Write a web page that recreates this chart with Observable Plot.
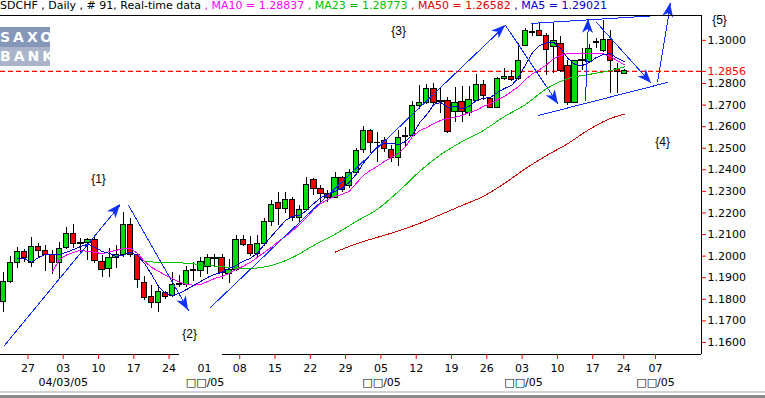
<!DOCTYPE html>
<html><head><meta charset="utf-8">
<script src="https://cdn.jsdelivr.net/npm/d3@7"></script>
<script src="https://cdn.jsdelivr.net/npm/@observablehq/plot@0.6"></script>
<style>
body{margin:0;background:#fff;}
#wrap{position:relative;width:765px;height:398px;overflow:hidden;font-family:"DejaVu Sans",sans-serif;background:#fff;}
#chart{position:absolute;left:0;top:0;}
#title{position:absolute;left:0;top:-1px;font-size:11px;line-height:13px;white-space:pre;}
.logo{position:absolute;left:0;width:50px;color:#fff;font-weight:bold;font-size:14px;letter-spacing:3px;text-align:center;font-family:"DejaVu Sans",sans-serif;}
#g1{position:absolute;left:0;top:391px;width:765px;height:2px;background:#d0d0d0;}
#g2{position:absolute;left:0;top:395px;width:765px;height:3px;background:#8c8c8c;}
</style></head>
<body><div id="wrap"><div id="chart"></div><div id="title"></div>
<div class="logo" style="top:27px;height:20px;line-height:20px;background:#8797b8;">SAXO</div>
<div class="logo" style="top:47px;height:19px;line-height:19px;background:#a9b4ca;">BANK</div>
<div id="g1"></div><div id="g2"></div></div>
<script>
// ---- candle data (visible bars, index 0..88) ----
const open  = [1.1786,1.1879,1.1967,1.2018,1.1967,1.2041,1.2022,1.2004,1.1967,1.2036,1.2101,1.2059,1.2059,1.2073,1.1971,1.1939,1.1990,1.2004,1.2143,1.2004,1.1876,1.1809,1.1781,1.1830,1.1815,1.1867,1.1867,1.1932,1.1930,1.1950,1.1985,1.1990,1.1918,1.1934,1.2073,1.2053,1.2011,1.2055,1.2157,1.2244,1.2217,1.2258,1.2177,1.2215,1.2351,1.2312,1.2289,1.2271,1.2363,1.2325,1.2387,1.2490,1.2578,1.2525,1.2533,1.2493,1.2456,1.2552,1.2555,1.2694,1.2709,1.2775,1.2716,1.2721,1.2667,1.2713,1.2662,1.2721,1.2794,1.2729,1.2688,1.2822,1.2832,1.2822,1.2976,1.3036,1.3045,1.3022,1.2971,1.2984,1.2879,1.2709,1.2906,1.2899,1.2988,1.2950,1.3002,1.2869,1.2846];
const high  = [1.1925,1.1999,1.2041,1.2031,1.2087,1.2059,1.2050,1.2027,1.2065,1.2133,1.2147,1.2084,1.2084,1.2092,1.2004,1.2036,1.2050,1.2203,1.2175,1.2013,1.1907,1.1865,1.1865,1.1838,1.1924,1.1911,1.1953,1.1971,1.1994,1.2008,1.2008,1.2008,1.1985,1.2096,1.2096,1.2092,1.2096,1.2175,1.2258,1.2293,1.2295,1.2272,1.2235,1.2365,1.2360,1.2328,1.2305,1.2389,1.2369,1.2402,1.2500,1.2601,1.2586,1.2575,1.2550,1.2513,1.2582,1.2596,1.2717,1.2791,1.2794,1.2799,1.2777,1.2737,1.2783,1.2786,1.2786,1.2842,1.2814,1.2735,1.2828,1.2871,1.2860,1.2984,1.3055,1.3076,1.3076,1.3031,1.3078,1.3018,1.2906,1.2906,1.2962,1.2980,1.3008,1.3092,1.3045,1.2893,1.2865];
const low   = [1.1740,1.1874,1.1943,1.1971,1.1948,1.1994,1.1930,1.1916,1.1897,1.2030,1.2036,1.2018,1.1980,1.1967,1.1902,1.1902,1.1943,1.1994,1.1994,1.1851,1.1795,1.1758,1.1741,1.1800,1.1809,1.1855,1.1856,1.1883,1.1902,1.1916,1.1953,1.1893,1.1874,1.1930,1.2045,1.1999,1.1994,1.2045,1.2138,1.2143,1.2198,1.2161,1.2152,1.2212,1.2281,1.2250,1.2249,1.2268,1.2295,1.2314,1.2383,1.2476,1.2476,1.2436,1.2481,1.2434,1.2416,1.2508,1.2550,1.2680,1.2703,1.2703,1.2661,1.2569,1.2621,1.2621,1.2647,1.2717,1.2721,1.2684,1.2684,1.2814,1.2809,1.2814,1.2971,1.3018,1.3018,1.2837,1.2846,1.2851,1.2698,1.2707,1.2860,1.2893,1.2962,1.2944,1.2752,1.2754,1.2840];
const close = [1.1879,1.1967,1.2018,1.1990,1.2041,1.2022,1.2004,1.1967,1.2031,1.2101,1.2055,1.2055,1.2073,1.1976,1.1934,1.1990,1.2004,1.2143,1.2004,1.1888,1.1805,1.1781,1.1832,1.1809,1.1868,1.1871,1.1930,1.1936,1.1971,1.1990,1.1992,1.1924,1.1934,1.2073,1.2053,1.2008,1.2055,1.2157,1.2235,1.2217,1.2258,1.2177,1.2212,1.2331,1.2312,1.2289,1.2271,1.2363,1.2305,1.2387,1.2485,1.2578,1.2525,1.2522,1.2498,1.2456,1.2549,1.2557,1.2694,1.2711,1.2775,1.2711,1.2720,1.2575,1.2709,1.2667,1.2725,1.2794,1.2740,1.2688,1.2822,1.2832,1.2817,1.2906,1.3041,1.3039,1.3022,1.2956,1.2999,1.2860,1.2709,1.2903,1.2911,1.2962,1.2992,1.3002,1.2903,1.2852,1.2856];

// ---- moving averages ----
const ma5Start = 2;
const ma5 = [1.1990,1.1990,1.1971,1.1994,1.2008,1.2008,1.2008,1.2018,1.2031,1.2045,1.2055,1.2041,1.2022,1.2013,1.1999,1.2004,1.2018,1.2004,1.1967,1.1916,1.1860,1.1828,1.1818,1.1828,1.1846,1.1865,1.1883,1.1902,1.1916,1.1925,1.1943,1.1957,1.1976,1.1990,1.2013,1.2055,1.2092,1.2129,1.2166,1.2184,1.2189,1.2212,1.2244,1.2272,1.2286,1.2300,1.2314,1.2342,1.2379,1.2430,1.2471,1.2508,1.2522,1.2522,1.2517,1.2531,1.2564,1.2619,1.2656,1.2703,1.2712,1.2689,1.2694,1.2684,1.2694,1.2721,1.2731,1.2735,1.2758,1.2777,1.2791,1.2828,1.2888,1.2944,1.2976,1.2990,1.2990,1.2962,1.2916,1.2888,1.2883,1.2897,1.2920,1.2934,1.2939,1.2916,1.2902];
const ma10Start = 7;
const ma10 = [1.1930,1.1985,1.2006,1.2018,1.2027,1.2022,1.2018,1.2011,1.2020,1.2027,1.2034,1.2037,1.2013,1.1976,1.1948,1.1930,1.1911,1.1895,1.1879,1.1869,1.1865,1.1869,1.1883,1.1897,1.1906,1.1920,1.1939,1.1953,1.1971,1.1994,1.2018,1.2041,1.2068,1.2092,1.2119,1.2147,1.2180,1.2217,1.2244,1.2263,1.2277,1.2286,1.2300,1.2337,1.2374,1.2397,1.2416,1.2439,1.2457,1.2476,1.2508,1.2555,1.2582,1.2596,1.2615,1.2629,1.2638,1.2643,1.2652,1.2666,1.2675,1.2694,1.2707,1.2726,1.2740,1.2763,1.2786,1.2819,1.2846,1.2865,1.2888,1.2916,1.2930,1.2939,1.2941,1.2941,1.2941,1.2939,1.2937,1.2925,1.2906,1.2886];
const ma23Idx = [20,23,26,29,32,35,38,41,44,47,50,53,56,59,62,65,68,71,74,77,80,83,86,88];
const ma23 = [1.1974,1.1971,1.1967,1.1957,1.1948,1.1943,1.1957,1.1994,1.2050,1.2101,1.2161,1.2217,1.2300,1.2393,1.2471,1.2531,1.2582,1.2647,1.2703,1.2777,1.2823,1.2842,1.2860,1.2877];
const ma50Idx = [47,50,53,56,59,62,65,68,71,74,77,80,83,86,88];
const ma50 = [1.2018,1.2057,1.2087,1.2117,1.2152,1.2193,1.2235,1.2277,1.2337,1.2406,1.2467,1.2522,1.2587,1.2638,1.2658];

// ---- labels ----
const maNames  = ["MA10","MA23","MA50","MA5"];
const maLast   = ["1.28837","1.28773","1.26582","1.29021"];
const lastPrice = 1.2856;
const yTicks = [1.16,1.17,1.18,1.19,1.20,1.21,1.22,1.23,1.24,1.25,1.26,1.27,1.28,1.30];
const dayTickPos = [3.5,8.5,13.5,18.5,23.5,33.5,38.5,43.5,48.5,53.5,58.5,63.5,68.5,73.5,78.5,83.5,87.9,92.4];
const dayLabelPos = [3.5,8.5,13.5,18.5,23.5,28.5,33.5,38.5,43.5,48.5,53.5,58.5,63.5,68.5,73.5,78.5,83.5,87.9,92.4];
const dayLabels = ["27","03","10","17","24","01","08","15","22","29","05","12","19","26","03","10","17","24","07"];
const monthPos = [8.5,28.6,53.6,73.7,92.4];
const monthLabels = ["04/03/05","\u25A1\u25A1/05","\u25A1\u25A1/05","\u25A1\u25A1/05","\u25A1\u25A1/05"];
const waveLabels = ["{1}","{2}","{3}","{4}","{5}"];
const waveI = [13.5,26.4,56.0,93.4,101.46];
const waveP = [1.2355,1.1637,1.3041,1.2527,1.3092];

// ---- drawn trend lines / arrows (bar index, price) ----
const arrows = [
  {i1:0.18, p1:1.1586, i2:16.62, p2:1.2239, head:true},
  {i1:17.75,p1:1.2235, i2:26.25, p2:1.1748, head:true},
  {i1:29.36,p1:1.1762, i2:71.15, p2:1.3069, head:true},
  {i1:71.15,p1:1.3069, i2:78.65, p2:1.2703, head:true},
  {i1:82.48,p1:1.2721, i2:82.90, p2:1.3097, head:true},
  {i1:84.04,p1:1.3083, i2:91.83, p2:1.2800, head:true},
  {i1:92.68,p1:1.2805, i2:94.52, p2:1.3171, head:true},
  {i1:75.82,p1:1.2652, i2:94.10, p2:1.2805, head:false},
  {i1:74.69,p1:1.3078, i2:91.69, p2:1.3113, head:false}
];

const C = {up:"#00dd00", down:"#ee0000", ma5:"#0000cc", ma10:"#ff00ff", ma23:"#00c000", ma50:"#cc0000", ann:"#1030ff"};
const maColors = [C.ma10, C.ma23, "#dd0000", C.ma5];

// title
const title = document.getElementById("title");
title.append(document.createTextNode("SDCHF , Daily , # 91, Real-time data"));
maNames.forEach((n,k)=>{const s=document.createElement("span");s.style.color=maColors[k];s.textContent=" , "+n+" = "+maLast[k];title.append(s);});

const candles = open.map((o,i)=>({i, open:o, high:high[i], low:low[i], close:close[i]}));
const l5 = ma5.map((v,k)=>({i:k+ma5Start, v}));
const l10 = ma10.map((v,k)=>({i:k+ma10Start, v}));
const l23 = ma23.map((v,k)=>({i:ma23Idx[k], v}));
const l50 = ma50.map((v,k)=>({i:ma50Idx[k], v}));

const xDom = [-0.382, 98.91];
const yDom = [1.15442, 1.31151];

function heads(index, scales) {
  const sx = scales.x, sy = scales.y;
  const g = d3.create("svg:g");
  for (const a of arrows.filter(d=>d.head)) {
    const x1=sx(a.i1), y1=sy(a.p1), x2=sx(a.i2), y2=sy(a.p2);
    const dx=x2-x1, dy=y2-y1, L=Math.hypot(dx,dy), ux=dx/L, uy=dy/L, nx=-uy, ny=ux;
    const len=14, w=5.5, notch=10;
    const bx=x2-len*ux, by=y2-len*uy;
    const p=[[x2,y2],[bx+w*nx,by+w*ny],[x2-notch*ux,y2-notch*uy],[bx-w*nx,by-w*ny]];
    g.append("path").attr("d","M"+p.map(q=>q.join(",")).join("L")+"Z").attr("fill",C.ann);
  }
  return g.node();
}

const crisp = {shapeRendering:"crispEdges"};
const chart = Plot.plot({
  width:765, height:398,
  marginLeft:0, marginRight:64, marginTop:15, marginBottom:44,
  style:{fontFamily:"DejaVu Sans", fontSize:"11px", background:"transparent", overflow:"visible"},
  x:{domain:xDom, axis:null},
  y:{domain:yDom, axis:null},
  marks:[
    Plot.ruleY([lastPrice], {stroke:"#ff0000", strokeWidth:1.2, strokeDasharray:"5,3"}),
    Plot.ruleX(candles, {x:"i", y1:"low", y2:"high", stroke:"black", ...crisp}),
    Plot.rect(candles, {x1:d=>d.i-0.38, x2:d=>d.i+0.38, y1:"open", y2:"close",
      fill:d=>d.close>=d.open?C.up:C.down, stroke:"black", ...crisp}),
    Plot.line(l50, {x:"i", y:"v", stroke:C.ma50, strokeWidth:1, curve:"monotone-x", ...crisp}),
    Plot.line(l23, {x:"i", y:"v", stroke:C.ma23, strokeWidth:1, curve:"monotone-x", ...crisp}),
    Plot.line(l10, {x:"i", y:"v", stroke:C.ma10, strokeWidth:1, ...crisp}),
    Plot.line(l5, {x:"i", y:"v", stroke:C.ma5, strokeWidth:1, ...crisp}),
    Plot.link(arrows, {x1:"i1", y1:"p1", x2:"i2", y2:"p2", stroke:C.ann, strokeWidth:1, ...crisp}),
    heads,
    Plot.ruleY([yDom[1]], {stroke:"black", ...crisp}),
    Plot.ruleX([xDom[1]], {stroke:"black", ...crisp}),
    Plot.ruleY([{a:xDom[0], b:25.0},{a:31.06, b:xDom[1]}], {y:()=>yDom[0], x1:"a", x2:"b", stroke:"black", ...crisp}),
    Plot.axisY(yTicks, {anchor:"right", tickSize:4, tickPadding:2, stroke:"#ff0000", fill:"black", fontSize:11, tickFormat:d3.format(".4f"), label:null}),
    Plot.axisY([lastPrice], {anchor:"right", tickSize:4, tickPadding:2, stroke:"#ff0000", fill:"#ff0000", fontSize:11, tickFormat:d3.format(".4f"), label:null}),
    Plot.axisX(dayTickPos, {anchor:"bottom", tickSize:5, stroke:"#ff0000", tickFormat:()=>"", label:null}),
    Plot.text(dayLabelPos, {x:d=>d, text:(d,k)=>dayLabels[k], frameAnchor:"bottom", dy:17, fontSize:11, fill:"black"}),
    Plot.text(monthPos, {x:d=>d, text:(d,k)=>monthLabels[k], frameAnchor:"bottom", dy:31, fontSize:11, fill:"black"}),
    Plot.text(waveLabels, {x:(d,k)=>waveI[k], y:(d,k)=>waveP[k], text:d=>d, fontSize:12, fontFamily:"Liberation Sans", fill:"black"})
  ]
});
document.getElementById("chart").append(chart);
</script>
</body></html>
